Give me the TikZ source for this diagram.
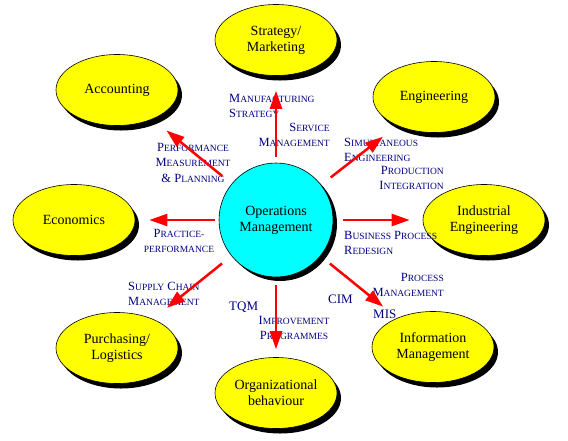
\documentclass[tikz,border=0pt]{standalone}
\usepackage{fontspec}
\setmainfont{Liberation Serif}
\usetikzlibrary{arrows.meta,shapes.geometric,shadows}
\definecolor{lblblue}{RGB}{0,0,128}
\definecolor{arrred}{RGB}{255,0,0}
\definecolor{hubcyan}{RGB}{0,255,255}
\definecolor{areayellow}{RGB}{255,255,0}
\newcommand{\fsc}[2]{#1{\fontsize{9.5}{15.5}\selectfont#2}}
\begin{document}
\begin{tikzpicture}[x=1pt,y=-1pt,line join=round,
  area/.style={ellipse,draw=black,line width=0.6pt,fill=areayellow,minimum width=122pt,minimum height=71pt,inner sep=0pt,align=center,font=\fontsize{14}{16}\selectfont,drop shadow={shadow xshift=4pt,shadow yshift=-5pt,fill=black,opacity=1}},
  hub/.style={circle,draw=black,line width=0.6pt,fill=hubcyan,minimum size=114pt,inner sep=0pt,align=center,font=\fontsize{14}{16}\selectfont,drop shadow={shadow xshift=4pt,shadow yshift=-4pt,fill=black,opacity=1}},
  lbl/.style={text=lblblue,inner sep=0pt,font=\fontsize{12.5}{15.5}\selectfont},
  abbr/.style={text=lblblue,inner sep=0pt,font=\fontsize{13}{15}\selectfont},
  link/.style={draw=arrred,line width=2.5pt,-{Triangle[length=18pt,width=12pt]},shorten <=6pt,shorten >=15pt},
  diag/.style={link,shorten <=12pt,shorten >=18pt}]
	\useasboundingbox (0,0) rectangle (568,440);
	\node[area] (strat) at (276,40) {Strategy/\\Marketing};
	\node[area] (acct) at (117,90) {Accounting};
	\node[area] (engg) at (434,97) {Engineering};
	\node[area] (econ) at (74,220) {Economics};
	\node[area] (indeng) at (484,220) {Industrial\\Engineering};
	\node[area] (purch) at (117,348) {Purchasing/\\Logistics};
	\node[area] (infomgt) at (433,347) {Information\\Management};
	\node[area] (orgbeh) at (276,393) {Organizational\\behaviour};
	\node[hub] (om) at (276,220) {Operations\\Management};
	\node[lbl,anchor=north west,align=left] (mfgstrat) at (229,94) {\fsc{M}{ANUFACTURING}\\\fsc{S}{TRATEGY}};
	\node[lbl,anchor=north east,align=right] (service) at (330,123) {\fsc{S}{ERVICE}\\\fsc{M}{ANAGEMENT}};
	\node[lbl,anchor=north,align=center] (perfmeas) at (193,143) {\fsc{P}{ERFORMANCE}\\\fsc{M}{EASUREMENT}\\\& \fsc{P}{LANNING}};
	\node[lbl,anchor=north,align=center] (practice) at (179,229) {\fsc{P}{RACTICE-}\\\fsc{}{PERFORMANCE}};
	\node[lbl,anchor=north west,align=left] (simeng) at (344,138) {\fsc{S}{IMULTANEOUS}\\\fsc{E}{NGINEERING}};
	\node[lbl,anchor=north east,align=right] (prodint) at (444,166) {\fsc{P}{RODUCTION}\\\fsc{I}{NTEGRATION}};
	\node[lbl,anchor=north west,align=left] (bpr) at (344,231) {\fsc{B}{USINESS} \fsc{P}{ROCESS}\\\fsc{R}{EDESIGN}};
	\node[lbl,anchor=north east,align=right] (procmgt) at (444,273) {\fsc{P}{ROCESS}\\\fsc{M}{ANAGEMENT}};
	\node[lbl,anchor=north west,align=left] (supply) at (128,282) {\fsc{S}{UPPLY} \fsc{C}{HAIN}\\\fsc{M}{ANAGEMENT}};
	\node[lbl,anchor=north,align=center] (improve) at (294,316) {\fsc{I}{MPROVEMENT}\\\fsc{P}{ROGRAMMES}};
	\node[abbr,anchor=north west] (cim) at (328,295) {CIM};
	\node[abbr,anchor=north west] (mis) at (373,310) {MIS};
	\node[abbr,anchor=north west] (tqm) at (229,302) {TQM};
	\draw[link] (om) -- (strat);
	\draw[diag] (om) -- (acct);
	\draw[diag] (om) -- (engg);
	\draw[link,shorten <=4pt,shorten >=14pt] (om) -- (econ);
	\draw[link,shorten <=10pt,shorten >=13pt] (om) -- (indeng);
	\draw[diag] (om) -- (purch);
	\draw[diag] (om) -- (infomgt);
	\draw[link,shorten <=8pt,shorten >=8pt] (om) -- (orgbeh);
\end{tikzpicture}
\end{document}
